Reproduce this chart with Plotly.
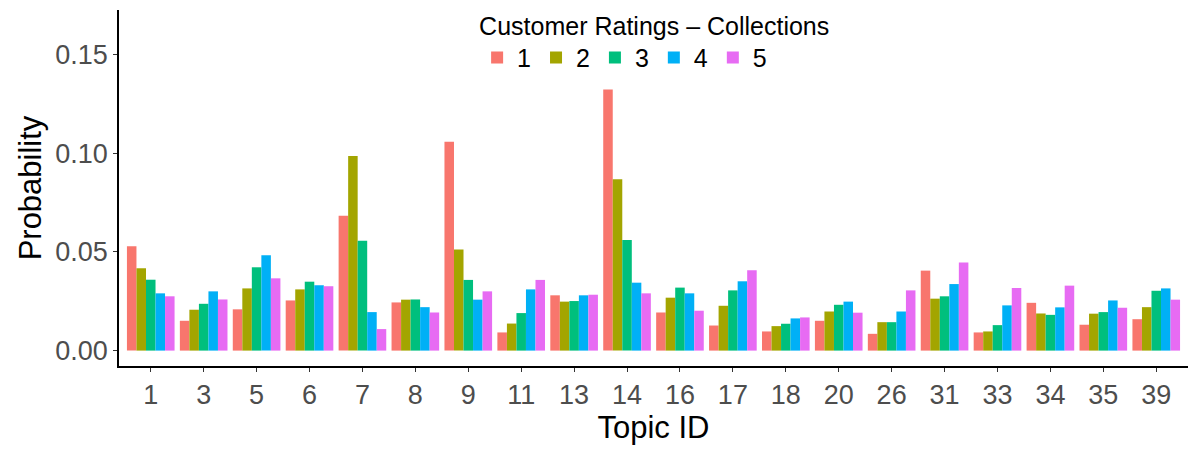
import plotly.graph_objects as go

topics = ["1", "3", "5", "6", "7", "8", "9", "11", "13", "14", "16", "17", "18", "20", "26", "31", "33", "34", "35", "39"]
ratings = ["1", "2", "3", "4", "5"]

r1 = [0.0529, 0.0151, 0.0209, 0.0254, 0.0683, 0.0244, 0.1058, 0.0092, 0.0280, 0.1322, 0.0193, 0.0127, 0.0097, 0.0151, 0.0085, 0.0405, 0.0092, 0.0242, 0.0131, 0.0159]
r2 = [0.0417, 0.0207, 0.0315, 0.0310, 0.0985, 0.0258, 0.0512, 0.0137, 0.0248, 0.0868, 0.0268, 0.0227, 0.0124, 0.0198, 0.0144, 0.0263, 0.0097, 0.0188, 0.0187, 0.0220]
r3 = [0.0359, 0.0237, 0.0422, 0.0349, 0.0556, 0.0259, 0.0358, 0.0190, 0.0251, 0.0560, 0.0319, 0.0305, 0.0136, 0.0232, 0.0144, 0.0275, 0.0129, 0.0181, 0.0195, 0.0303]
r4 = [0.0290, 0.0300, 0.0483, 0.0331, 0.0195, 0.0220, 0.0258, 0.0310, 0.0280, 0.0344, 0.0290, 0.0351, 0.0163, 0.0248, 0.0198, 0.0337, 0.0229, 0.0219, 0.0254, 0.0315]
r5 = [0.0275, 0.0259, 0.0366, 0.0326, 0.0109, 0.0193, 0.0300, 0.0358, 0.0283, 0.0290, 0.0202, 0.0407, 0.0168, 0.0192, 0.0305, 0.0446, 0.0317, 0.0329, 0.0217, 0.0258]

series = [r1, r2, r3, r4, r5]
colors = ["#F8766D", "#A3A500", "#00BF7D", "#00B0F6", "#E76BF3"]

fig = go.Figure()
for name, vals, col in zip(ratings, series, colors):
    fig.add_trace(go.Bar(x=topics, y=vals, name=name, marker=dict(color=col, line=dict(width=0))))

fig.update_layout(
    width=1200, height=450,
    barmode="group", bargap=0.1, bargroupgap=0,
    plot_bgcolor="white", paper_bgcolor="white",
    margin=dict(l=119, r=12, t=10, b=84, autoexpand=False),
    font=dict(family="Liberation Sans, Arial, sans-serif", color="black"),
    legend=dict(
        orientation="h",
        x=0.335, xanchor="left", y=1.022, yanchor="top",
        title=dict(text="Customer Ratings \u2013 Collections", side="top", font=dict(size=25)),
        font=dict(size=25),
        itemwidth=30,
        tracegroupgap=0,
        bgcolor="rgba(0,0,0,0)",
    ),
)

fig.update_xaxes(
    type="category", range=[-0.6, 19.6],
    showline=True, linecolor="black", linewidth=1.5,
    ticks="outside", ticklen=4, tickcolor="#333333",
    tickfont=dict(size=27, color="#4D4D4D"),
    title=dict(text="Topic ID", font=dict(size=31, color="black"), standoff=0),
    showgrid=False,
)
fig.update_yaxes(
    range=[-0.0078, 0.1725],
    tickvals=[0, 0.05, 0.10, 0.15], tickformat=".2f",
    showline=True, linecolor="black", linewidth=1.5,
    ticks="outside", ticklen=4, tickcolor="#333333",
    tickfont=dict(size=27, color="#4D4D4D"),
    title=dict(text="Probability", font=dict(size=31, color="black"), standoff=4),
    showgrid=False, zeroline=False,
)

fig.write_html("out.html")
